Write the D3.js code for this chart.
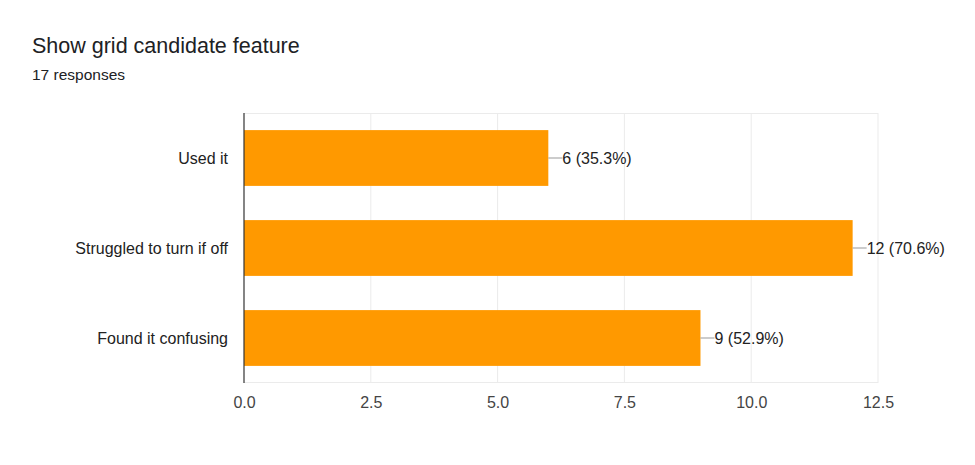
<!DOCTYPE html>
<html><head><meta charset="utf-8">
<script src="https://cdn.jsdelivr.net/npm/d3@7"></script>
<style>body{margin:0;background:#fff;font-family:"Liberation Sans",Arial,sans-serif;}</style>
</head><body>
<svg id="c" width="975" height="465"></svg>
<script>
const title = "Show grid candidate feature";
const subtitle = "17 responses";
const categories = ["Used it", "Struggled to turn if off", "Found it confusing"];
const counts = [6, 12, 9];
const percents = ["35.3%", "70.6%", "52.9%"];
const xTicks = [0, 2.5, 5, 7.5, 10, 12.5];

const FONT = '"Liberation Sans",Arial,sans-serif';
const svg = d3.select("#c").attr("font-family", FONT);
const m = {left: 244, right: 878, top: 113, bottom: 383};
const x = d3.scaleLinear().domain([0, 12.5]).range([m.left, m.right]);
const y = d3.scaleBand().domain(categories).range([m.top, m.bottom]);
const barH = y.bandwidth() * 0.62;

svg.append("text").attr("x", 32).attr("y", 53).attr("font-size", 21.5).attr("fill", "#202124").text(title);
svg.append("text").attr("x", 32).attr("y", 80).attr("font-size", 15.5).attr("fill", "#202124").text(subtitle);

// grid
svg.append("g").selectAll("line").data(xTicks.slice(1)).join("line")
  .attr("x1", d => x(d)).attr("x2", d => x(d)).attr("y1", m.top).attr("y2", m.bottom)
  .attr("stroke", "#ebebeb").attr("stroke-width", 1);
svg.append("line").attr("x1", m.left).attr("x2", m.right).attr("y1", m.top + 0.5).attr("y2", m.top + 0.5).attr("stroke", "#ebebeb");
svg.append("line").attr("x1", m.left).attr("x2", m.right).attr("y1", m.bottom - 0.5).attr("y2", m.bottom - 0.5).attr("stroke", "#ebebeb");

// bars
const data = categories.map((c, i) => ({c, v: counts[i], p: percents[i]}));
svg.append("g").selectAll("rect").data(data).join("rect")
  .attr("x", x(0)).attr("y", d => y(d.c) + (y.bandwidth() - barH) / 2)
  .attr("width", d => x(d.v) - x(0)).attr("height", barH).attr("fill", "#ff9900");

// leader lines and labels
svg.append("g").selectAll("line").data(data).join("line")
  .attr("x1", d => x(d.v)).attr("x2", d => x(d.v) + 14)
  .attr("y1", d => y(d.c) + y.bandwidth() / 2).attr("y2", d => y(d.c) + y.bandwidth() / 2)
  .attr("stroke", "#999").attr("stroke-width", 1);
svg.append("g").selectAll("text").data(data).join("text")
  .attr("x", d => x(d.v) + 14).attr("y", d => y(d.c) + y.bandwidth() / 2).attr("dy", "0.35em")
  .attr("font-size", 16).attr("fill", "#222").text(d => `${d.v} (${d.p})`);

// category labels
svg.append("g").selectAll("text").data(categories).join("text")
  .attr("x", 228).attr("y", d => y(d) + y.bandwidth() / 2).attr("dy", "0.35em")
  .attr("text-anchor", "end").attr("font-size", 16).attr("fill", "#222").text(d => d);

// x axis
const ax = svg.append("g").attr("transform", `translate(0,${m.bottom})`)
  .call(d3.axisBottom(x).tickValues(xTicks).tickFormat(d3.format(".1f")).tickSize(0).tickPadding(14));
ax.select(".domain").remove();
ax.selectAll("text").attr("font-size", 16).attr("fill", "#444").attr("font-family", FONT);

// baseline
svg.append("line").attr("x1", x(0)).attr("x2", x(0)).attr("y1", m.top).attr("y2", m.bottom)
  .attr("stroke", "#333").attr("stroke-width", 1.2);
</script>
</body></html>
